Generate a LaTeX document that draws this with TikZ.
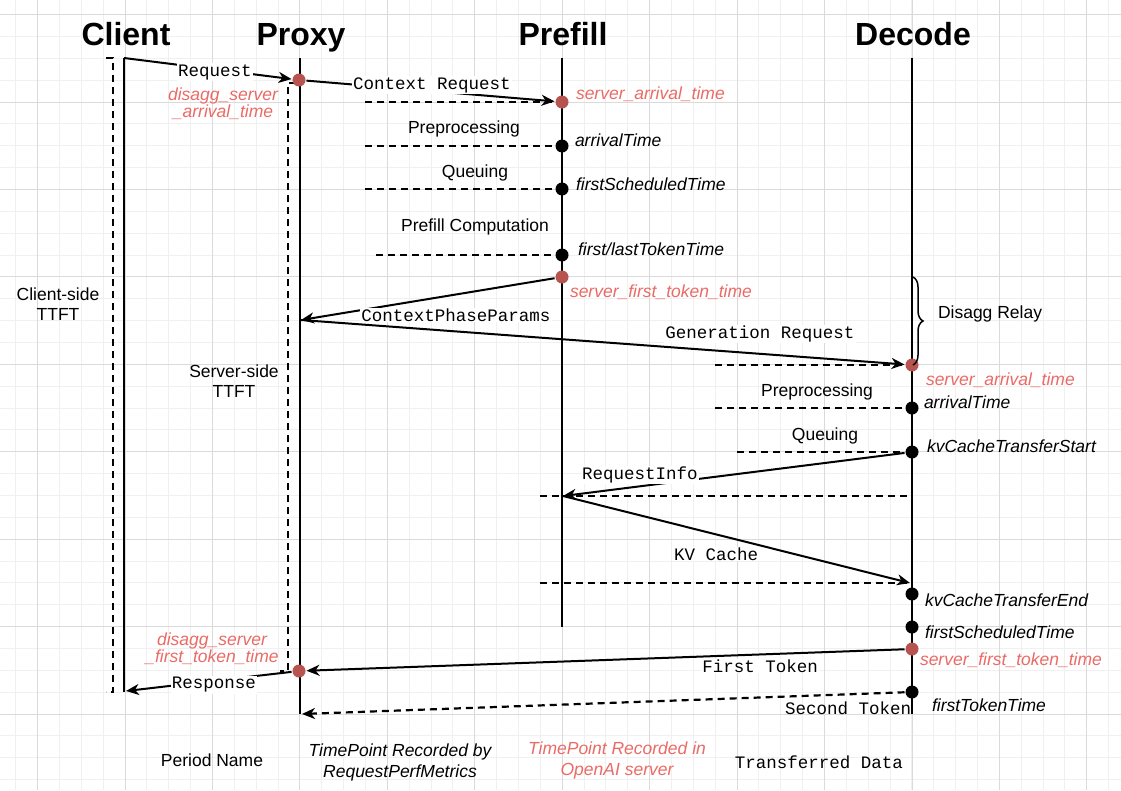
\documentclass[tikz,border=0pt]{standalone}
\usepackage{fontspec}
\setmainfont{Liberation Sans}
\setmonofont{Liberation Mono}
\usetikzlibrary{arrows.meta,decorations.pathreplacing}
\definecolor{redtxt}{HTML}{EA6B66}
\definecolor{reddot}{HTML}{B85450}
\definecolor{gminor}{HTML}{F0F0F0}
\definecolor{gmajor}{HTML}{DADADA}
\begin{document}
\begin{tikzpicture}[x=1pt,y=-1pt, line width=2pt,
  every node/.style={inner sep=1pt},
  lbl/.style={font=\fontsize{17.5}{20}\selectfont},
  mono/.style={font=\fontsize{17.5}{20}\selectfont\ttfamily, fill=white},
  tp/.style={font=\fontsize{17.5}{20}\selectfont\itshape, anchor=west},
  rtp/.style={tp, text=redtxt},
  ttl/.style={font=\fontsize{32}{36}\selectfont\bfseries, anchor=base},
  bdot/.style={circle, fill=black, minimum size=13pt, inner sep=0pt},
  rdot/.style={circle, fill=reddot, minimum size=13pt, inner sep=0pt},
  msg/.style={-{Stealth[length=13pt,width=11pt,inset=4pt]}},
  dsh/.style={line width=2.2pt, dash pattern=on 7pt off 5pt},
]
\useasboundingbox (0,0) rectangle (1121,790);
\fill[white] (0,0) rectangle (1121,790);
\begin{scope}
\clip (0,0) rectangle (1121,790);
\foreach \i in {0,...,51} {\draw[gminor,line width=1pt] ({15.8+21.857*\i},0) -- ++(0,790);}
\foreach \i in {0,...,36} {\draw[gminor,line width=1pt] (0,{14.7+21.857*\i}) -- ++(1121,0);}
\foreach \i in {0,...,12} {\draw[gmajor,line width=1pt] ({37.7+87.43*\i},0) -- ++(0,790);}
\foreach \i in {0,...,9} {\draw[gmajor,line width=1pt] (0,{14.7+87.43*\i}) -- ++(1121,0);}
\end{scope}

% titles
\node[ttl] (tc) at (126,45) {Client};
\node[ttl] (tp) at (301,45) {Proxy};
\node[ttl] (tf) at (563,45) {Prefill};
\node[ttl] (td) at (913,45) {Decode};

% lifelines
\coordinate (cT) at (124,58); \coordinate (cB) at (124,692);
\coordinate (pT) at (300,58); \coordinate (pB) at (300,714);
\coordinate (fT) at (562,58); \coordinate (fB) at (562,627);
\coordinate (dT) at (912,58); \coordinate (dB) at (912,714);
\draw (cT) -- (cB);
\draw (pT) -- (pB);
\draw (fT) -- (fB);
\draw (dT) -- (dB);

% TTFT brackets
\draw[dsh] (106,58) -- (113,58) -- (113,692) -- (106,692);
\draw[dsh] (296,83) -- (288,83) -- (288,671) -- (280,671);

% dots
\node[rdot] (p1) at (299,80) {};
\node[rdot] (p2) at (299,671) {};
\node[rdot] (f1) at (562,102) {};
\node[bdot] (f2) at (562,146) {};
\node[bdot] (f3) at (562,189) {};
\node[bdot] (f4) at (562,255) {};
\node[rdot] (f5) at (562,277) {};
\node[rdot] (d1) at (912,365) {};
\node[bdot] (d2) at (912,408) {};
\node[bdot] (d3) at (912,452) {};
\node[bdot] (d4) at (912,594) {};
\node[bdot] (d5) at (912,627) {};
\node[rdot] (d6) at (912,649) {};
\node[bdot] (d7) at (912,692) {};

% free ends
\coordinate (px1) at (301,320);
\coordinate (f6) at (563,496);
\coordinate (dk) at (910,583);
\coordinate (cR) at (126,691);
\coordinate (px2) at (302,714);

% dashed period markers
\coordinate (a1) at (365,102); \draw[dsh] (a1) -- (f1);
\coordinate (a2) at (365,146); \draw[dsh] (a2) -- (f2);
\coordinate (a3) at (365,189); \draw[dsh] (a3) -- (f3);
\coordinate (a4) at (376,255); \draw[dsh] (a4) -- (f4);
\coordinate (b1) at (715,365); \draw[dsh] (b1) -- (d1);
\coordinate (b2) at (715,408); \draw[dsh] (b2) -- (d2);
\coordinate (b3) at (737,452); \draw[dsh] (b3) -- (d3);
\coordinate (b4) at (540,496); \coordinate (b4e) at (912,496); \draw[dsh] (b4) -- (b4e);
\coordinate (b5) at (540,583); \draw[dsh] (b5) -- (dk);

% messages
\draw[msg] (cT) -- (p1);
\draw[msg] (p1) -- (f1);
\draw[msg] (f5) -- (px1);
\draw[msg] (px1) -- (d1);
\draw[msg] (d3) -- (f6);
\draw[msg] (f6) -- (dk);
\draw[msg] (d6) -- (p2);
\draw[msg] (p2) -- (cR);
\draw[msg,dsh] (d7) -- (px2);

% brace
\draw[line width=1.5pt, decorate, decoration={brace, amplitude=10pt}] (913,277) -- (913,365);
\node[lbl, anchor=west] (relay) at (936,314) {Disagg Relay};

% message labels
\node[mono] (lreq) at (215,72) {Request};
\node[mono] (lcr) at (432,85) {Context Request};
\node[mono] (lcpp) at (456,315) {ContextPhaseParams};
\node[mono] (lgr) at (760,334) {Generation Request};
\node[mono] (lri) at (640,475) {RequestInfo};
\node[mono] (lkv) at (716,554) {KV Cache};
\node[mono] (lft) at (760,666) {First Token};
\node[mono] (lresp) at (214,685) {Response};
\node[mono, fill=none] (lst) at (848,708) {Second Token};

% period labels
\node[lbl] (pp1) at (464,129) {Preprocessing};
\node[lbl] (pq1) at (475,173) {Queuing};
\node[lbl] (pc1) at (475,227) {Prefill Computation};
\node[lbl] (pp2) at (817,392) {Preprocessing};
\node[lbl] (pq2) at (825,436) {Queuing};
\node[lbl, align=center, font=\fontsize{17.5}{20}\selectfont] (ctt) at (58,304) {Client-side\\TTFT};
\node[lbl, align=center, font=\fontsize{17.5}{20}\selectfont] (stt) at (234,381) {Server-side\\TTFT};

% timepoint labels
\node[rtp, anchor=center, align=center, font=\fontsize{17.5}{17}\selectfont\itshape] (dsa) at (223,104) {disagg\_server\\\_arrival\_time};
\node[rtp, anchor=center, align=center, font=\fontsize{17.5}{17}\selectfont\itshape] (dsf) at (212,649) {disagg\_server\\\_first\_token\_time};
\node[rtp] at (574,94) {server\_arrival\_time};
\node[tp] at (573,140) {arrivalTime};
\node[tp] at (574,184) {firstScheduledTime};
\node[tp] at (576,249) {first/lastTokenTime};
\node[rtp] at (568,292) {server\_first\_token\_time};
\node[rtp] at (924,380) {server\_arrival\_time};
\node[tp] at (922,402) {arrivalTime};
\node[tp] at (925,446) {kvCacheTransferStart};
\node[tp] at (923,600) {kvCacheTransferEnd};
\node[tp] at (923,632) {firstScheduledTime};
\node[rtp] at (918,660) {server\_first\_token\_time};
\node[tp] at (930,705) {firstTokenTime};

% legend
\node[lbl] (lg1) at (212,760) {Period Name};
\node[tp, anchor=center, align=center, font=\fontsize{17.5}{21}\selectfont\itshape] (lg2) at (400,762) {TimePoint Recorded by\\RequestPerfMetrics};
\node[rtp, anchor=center, align=center, font=\fontsize{17.5}{21}\selectfont\itshape] (lg3) at (617,760) {TimePoint Recorded in\\OpenAI server};
\node[mono, fill=none] (lg4) at (819,762) {Transferred Data};
\end{tikzpicture}
\end{document}
